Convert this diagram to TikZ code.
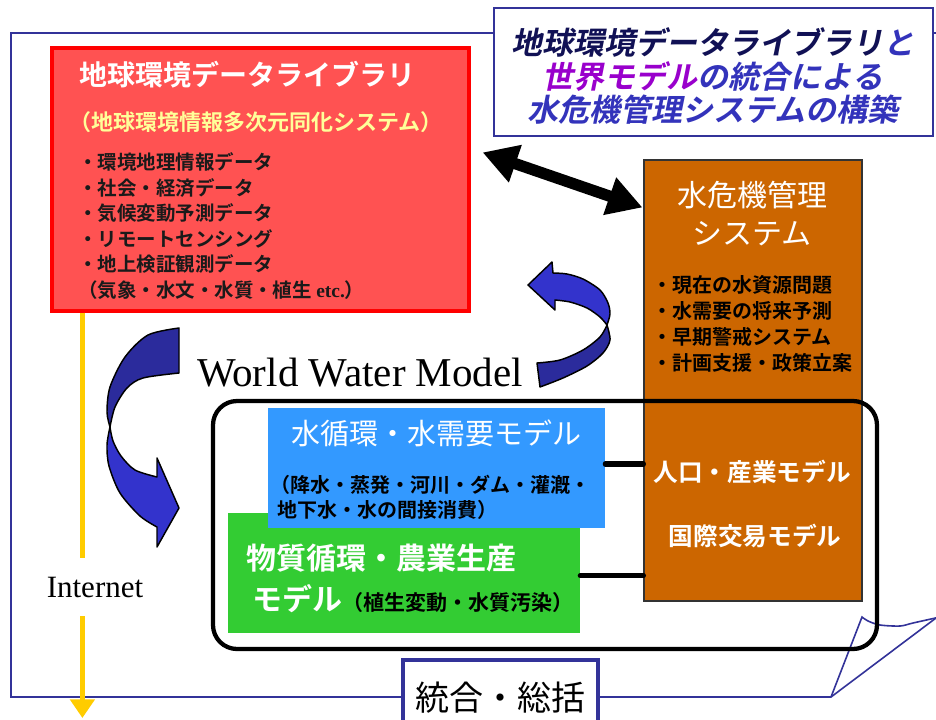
\documentclass[tikz,border=0pt]{standalone}
\usepackage{fontspec}
\usetikzlibrary{arrows.meta,fit,calc}
\newfontfamily\jp{Noto Sans CJK JP}[BoldFont={Noto Sans CJK JP Bold}]
\newfontfamily\jpbi{Noto Sans CJK JP Bold}[FakeSlant=0.2]
\newfontfamily\tms{Liberation Serif}
\definecolor{framec}{HTML}{333399}
\definecolor{tnavy}{HTML}{111155}
\definecolor{tblue}{HTML}{3333BB}
\definecolor{tpurple}{HTML}{9900CC}
\definecolor{libfill}{HTML}{FF5252}
\definecolor{libyel}{HTML}{FFFF99}
\definecolor{brownc}{HTML}{CC6600}
\definecolor{bluec}{HTML}{3399FF}
\definecolor{greenc}{HTML}{33CC33}
\definecolor{yelc}{HTML}{FFCC00}
\definecolor{arrdarkc}{HTML}{2B2B9C}
\definecolor{arrlightc}{HTML}{3333CC}
\definecolor{txtdark}{HTML}{1A1A1A}
\tikzset{
  frame/.style={draw=framec, line width=1.2pt},
  titlebox/.style={draw=framec, line width=1.6pt, fill=white, inner sep=0pt},
  libbox/.style={draw=red, line width=2.4pt, fill=libfill, inner sep=0pt},
  brownbox/.style={draw=black!80, line width=0.8pt, fill=brownc, inner sep=0pt},
  bluebox/.style={fill=bluec, inner sep=0pt},
  greenbox/.style={fill=greenc, inner sep=0pt},
  sumbox/.style={draw=framec, line width=2.4pt, fill=white, inner sep=0pt},
  yel/.style={draw=yelc, line width=3.8pt},
  conn/.style={draw=black, line width=3.8pt, line cap=round},
  dbl/.style={draw=black, line width=8.5pt, arrows={Triangle[length=26pt,width=28pt]-Triangle[length=26pt,width=28pt]}},
  arrdark/.style={fill=arrdarkc, draw=black, line width=1.1pt, line join=round},
  arrlight/.style={fill=arrlightc, draw=black, line width=1.1pt, line join=round},
  modelframe/.style={draw=black, line width=3.2pt, rounded corners=18pt},
}
\begin{document}
\begin{tikzpicture}[x=0.75pt,y=-0.75pt, every node/.style={font=\jp, inner sep=0pt}]
\useasboundingbox (0,0) rectangle (936,719);
\clip (0,0) rectangle (936,719);
\fill[white] (0,0) rectangle (936,719);

% outer frame with folded corner
\draw[frame] (940,33) -- (11,33) -- (11,697) -- (831,697) -- (940,615);
\draw[frame] (831,697) -- (862,617) -- plot[smooth] coordinates {(862,617) (868,621) (880,625) (900,626) (913,623) (940,617)};

% title box
\node[titlebox, fit={(494,8) (933,136)}] (ttlbox) {};
\node[align=center, font=\jpbi\fontsize{23.25}{25}\selectfont] (ttl) at (713,76)
  {{\color{tnavy}地球環境データライブラリ}{\color{tblue}と}\\
   {\color{tpurple}世界モデル}{\color{tblue}の統合による}\\
   {\color{tblue}水危機管理システムの構築}};

% library box
\node[libbox, fit={(52,48) (469,311)}] (lib) {};
\node[anchor=west, text=white, font=\jp\bfseries\fontsize{21}{25}\selectfont] (libttl) at (79,75) {地球環境データライブラリ};
\node[anchor=west, text=libyel, font=\jp\bfseries\fontsize{16.5}{20}\selectfont] (libsub) at (69,122) {（地球環境情報多次元同化システム）};
\node[anchor=west, align=left, text=txtdark, font=\jp\bfseries\fontsize{14.6}{19.1}\selectfont] (libitems) at (78,226)
  {・環境地理情報データ\\・社会・経済データ\\・気候変動予測データ\\・リモートセンシング\\・地上検証観測データ\\（気象・水文・水質・植生 {\tms etc.}）};

% yellow internet arrow
\coordinate (ytop) at ($(lib.south west)+(32,0)$);
\node[font=\tms\fontsize{23.25}{26}\selectfont, inner ysep=14pt] (inet) at (95,587) {Internet};
\draw[yel] (ytop) -- (ytop |- inet.north);
\draw[yel, -{Triangle[length=14pt,width=18pt]}] (ytop |- inet.south) -- (ytop |- 0,718);

% brown box
\node[brownbox, fit={(644,160) (862,601)}] (brown) {};
\node[align=center, text=white, font=\jp\fontsize{22.5}{28.5}\selectfont] (brownttl) at (752,214) {水危機管理\\システム};
\node[anchor=west, align=left, text=black, font=\jp\bfseries\fontsize{15}{19.3}\selectfont] (brownitems) at (652,324)
  {・現在の水資源問題\\・水需要の将来予測\\・早期警戒システム\\・計画支援・政策立案};
\node[text=white, font=\jp\bfseries\fontsize{18.5}{22}\selectfont] (popmodel) at (752,472) {人口・産業モデル};
\node[text=white, font=\jp\bfseries\fontsize{18.5}{22}\selectfont] (trademodel) at (755,536) {国際交易モデル};

% double arrow between library and water crisis system
\draw[dbl] ($(lib.north east)+(12,106)$) -- ($(brown.north west)+(-1,48)$);

% curved arrows
\filldraw[arrdark] (179,328) -- (179,373)
  -- plot[smooth] coordinates {(179,373) (143,378) (127,388) (115,407) (110,427)}
  -- plot[smooth] coordinates {(110,427) (107,412) (110,387) (125,357) (148,335) (179,328)} -- cycle;
\filldraw[arrlight] plot[smooth] coordinates {(110,427) (107,445) (109,466) (120,493) (140,516) (157,527)}
  -- (157,547) -- (179,508) -- (157,458) -- (157,477)
  -- plot[smooth] coordinates {(157,477) (135,470) (121,456) (113,441) (110,427)} -- cycle;

\filldraw[arrdark] (537,363) -- (540,387)
  -- plot[smooth] coordinates {(540,387) (563,378) (587,366) (603,353) (610,340) (607,325)}
  -- plot[smooth] coordinates {(607,325) (600,337) (583,350) (560,360) (537,363)} -- cycle;
\filldraw[arrlight] plot[smooth] coordinates {(607,325) (610,314) (608,303) (600,290) (583,279) (567,274) (553,273)}
  -- (552,262) -- (528,285) -- (555,310) -- (555,300)
  -- plot[smooth] coordinates {(555,300) (570,302) (587,308) (600,317) (607,325)} -- cycle;

\node[font=\tms\fontsize{30.75}{34}\selectfont] (wwm) at (360,373) {World Water Model};

% model boxes
\node[greenbox, fit={(228,513) (580,633)}] (green) {};
\node[bluebox, fit={(268,408) (605,528)}] (blue) {};
\node[text=white, font=\jp\fontsize{21.75}{26}\selectfont] (bluettl) at (436,433) {水循環・水需要モデル};
\node[anchor=west, text=black, font=\jp\bfseries\fontsize{15}{19}\selectfont] (bluesub1) at (270,485) {（降水・蒸発・河川・ダム・灌漑・};
\node[anchor=west, text=black, font=\jp\bfseries\fontsize{15}{19}\selectfont] (bluesub2) at (277,510) {地下水・水の間接消費）};
\node[anchor=west, text=white, font=\jp\bfseries\fontsize{22.5}{26}\selectfont] (greenttl) at (246,558) {物質循環・農業生産};
\node[anchor=base west, text=white, font=\jp\bfseries\fontsize{22.5}{26}\selectfont] (greensub) at (252,610)
  {モデル{\color{black}\fontsize{15.75}{19}\selectfont （植生変動・水質汚染）}};

% World Water Model frame
\draw[modelframe] (213,401) rectangle (877,649);

% connectors to the brown box
\draw[conn] ([yshift=3pt]blue.east) -- ([yshift=3pt]blue.east -| brown.west);
\draw[conn] ([yshift=-2pt]green.east) -- ([yshift=-2pt]green.east -| brown.west);

% integration box
\node[sumbox, fit={(403,660) (598,745)}] (sumbox) {};
\node[text=black, font=\jp\fontsize{25.5}{30}\selectfont] (sumtxt) at (500,698) {統合・総括};
\end{tikzpicture}
\end{document}
